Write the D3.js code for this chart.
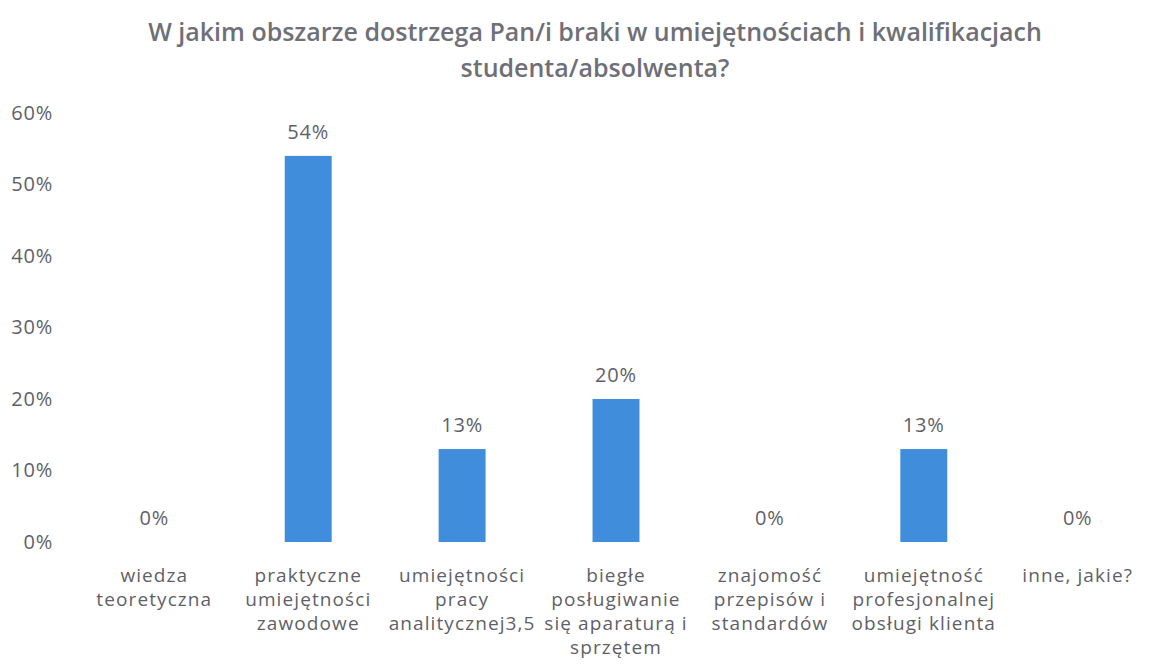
<!DOCTYPE html>
<html><head><meta charset="utf-8">
<script src="https://cdn.jsdelivr.net/npm/d3@7"></script>
<style>body{margin:0;background:#fff;} svg{display:block;}</style>
</head><body>
<script>
const titleLines = ["W jakim obszarze dostrzega Pan/i braki w umiejętnościach i kwalifikacjach", "studenta/absolwenta?"];
const categories = [
  ["wiedza", "teoretyczna"],
  ["praktyczne", "umiejętności", "zawodowe"],
  ["umiejętności", "pracy", "analitycznej3,5"],
  ["biegłe", "posługiwanie", "się aparaturą i", "sprzętem"],
  ["znajomość", "przepisów i", "standardów"],
  ["umiejętność", "profesjonalnej", "obsługi klienta"],
  ["inne, jakie?"]
];
const values = [0, 54, 13, 20, 0, 13, 0];
const yTicks = [0, 10, 20, 30, 40, 50, 60];

const W = 1171, H = 672;
const font = "'Open Sans', 'Noto Sans', sans-serif";
const svg = d3.select("body").append("svg").attr("width", W).attr("height", H);

const idx = categories.map((d, i) => i);
const x = d3.scaleBand().domain(idx).range([77, 1155]).paddingInner(0.695).paddingOuter(0.35);
const y = d3.scaleLinear().domain([0, 60]).range([542, 113]);

svg.append("g").selectAll("text").data(titleLines).join("text")
  .attr("x", 595).attr("y", (d, i) => 41 + i * 36)
  .attr("text-anchor", "middle")
  .attr("font-family", font).attr("font-weight", 600).attr("font-size", 25)
  .attr("fill", "#6f6f78").text(d => d);

const yAxis = d3.axisLeft(y).tickValues(yTicks).tickFormat(d => d + "%").tickSize(0).tickPadding(0);
const ga = svg.append("g").attr("transform", "translate(53,0)").call(yAxis);
ga.select(".domain").remove();
ga.selectAll("text").attr("font-family", font).attr("font-size", 20).attr("letter-spacing", 0.8).attr("fill", "#5f5f68");

svg.append("g").selectAll("rect").data(values).join("rect")
  .attr("x", (d, i) => x(i)).attr("width", x.bandwidth())
  .attr("y", d => y(d)).attr("height", d => y(0) - y(d))
  .attr("fill", "#3f8ddb");

svg.append("g").selectAll("text").data(values).join("text")
  .attr("x", (d, i) => x(i) + x.bandwidth() / 2)
  .attr("y", d => y(d) - 17)
  .attr("text-anchor", "middle")
  .attr("font-family", font).attr("font-size", 20).attr("letter-spacing", 0.8).attr("fill", "#5f5f68")
  .text(d => d + "%");

const lg = svg.append("g").selectAll("text").data(categories).join("text")
  .attr("text-anchor", "middle")
  .attr("font-family", font).attr("font-size", 19).attr("letter-spacing", 1.1).attr("fill", "#5f5f68");
lg.each(function(lines, i) {
  d3.select(this).selectAll("tspan").data(lines).join("tspan")
    .attr("x", x(i) + x.bandwidth() / 2)
    .attr("y", (d, j) => 582 + j * 24)
    .text(d => d);
});
</script>
</body></html>
